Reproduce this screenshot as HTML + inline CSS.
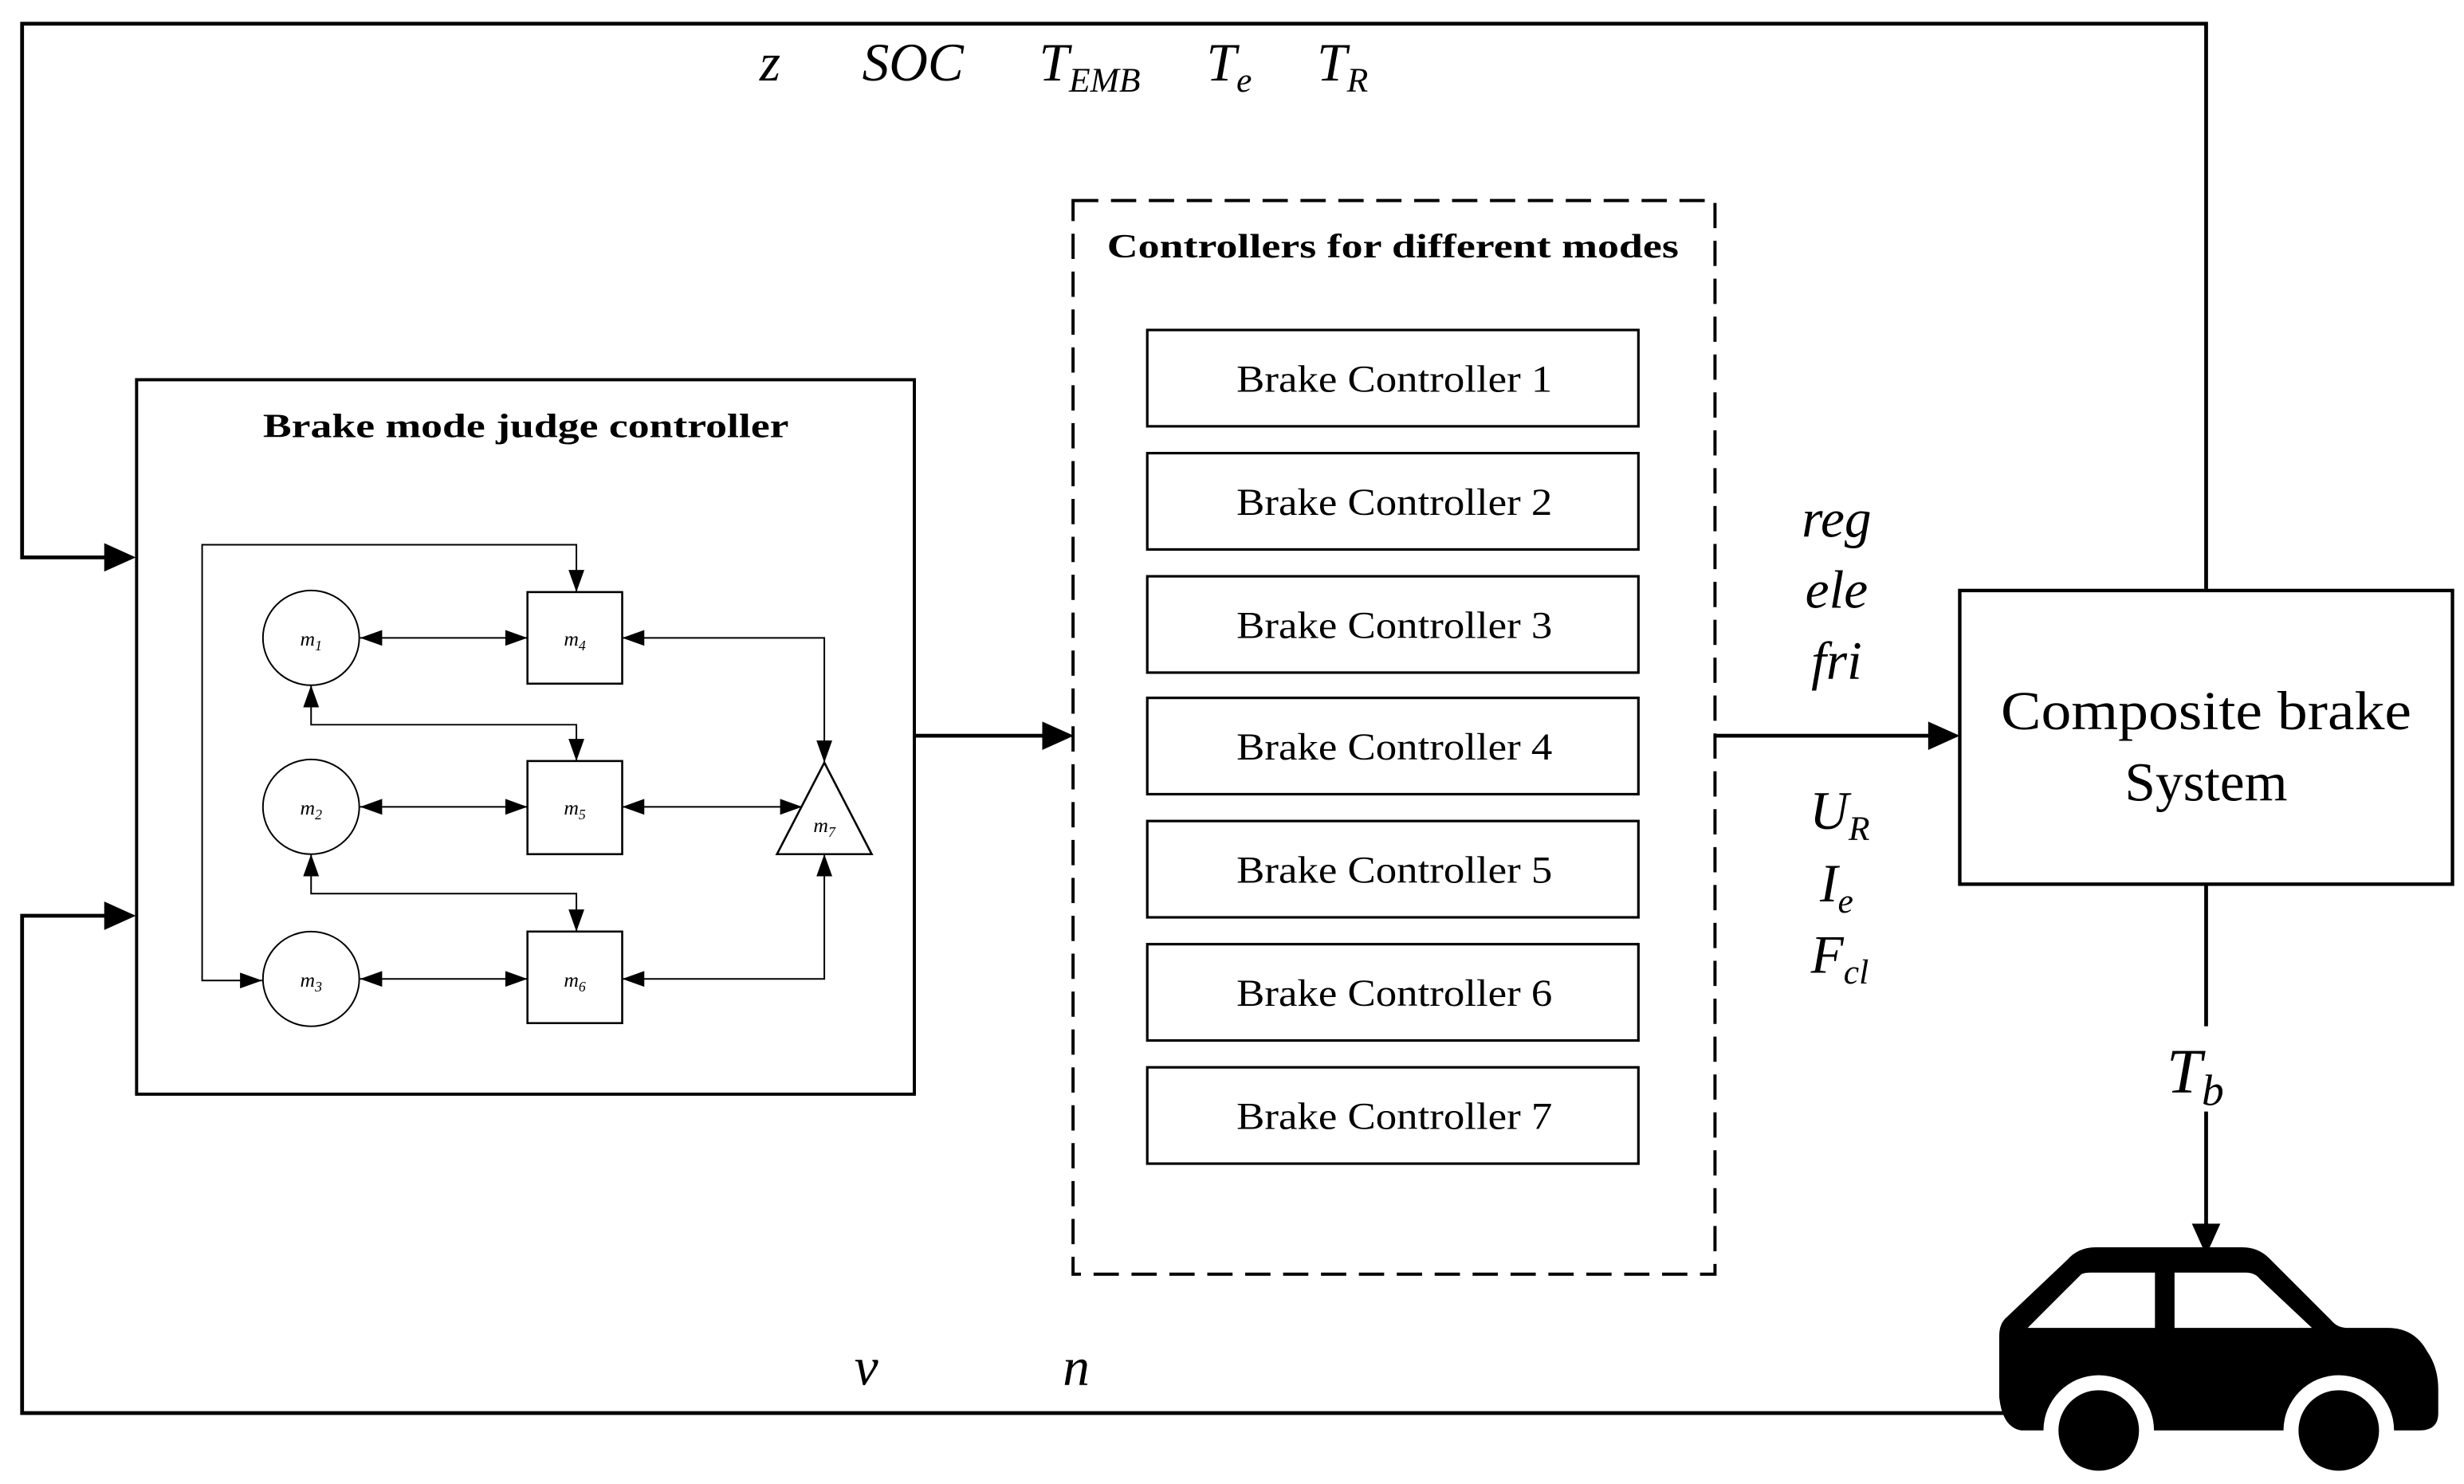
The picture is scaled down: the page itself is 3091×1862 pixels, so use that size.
<!DOCTYPE html>
<html><head><meta charset="utf-8"><style>
html,body{margin:0;padding:0;background:#fff;}
svg{display:block;}
text{font-family:"Liberation Serif",serif;fill:#000;}
</style></head><body>
<svg width="3091" height="1862" viewBox="0 0 1560.3 939.9" preserveAspectRatio="none" xmlns="http://www.w3.org/2000/svg">
<rect width="1560.3" height="939.9" fill="#fff"/>
<g fill="none" stroke="#000" stroke-width="2.4">
<polyline points="1397,373 1397,15 14,15 14,353 70,353"/>
<polyline points="1275,895 14,895 14,580 70,580"/>
<line x1="579" y1="466" x2="664" y2="466"/>
<line x1="1086" y1="466" x2="1224" y2="466"/>
<line x1="1397" y1="560" x2="1397" y2="778"/>
</g>
<g fill="#000">
<polygon points="86,353 66,344 66,362"/>
<polygon points="86,580 66,571 66,589"/>
<polygon points="680,466 660,457 660,475"/>
<polygon points="1241,466 1221,457 1221,475"/>
<polygon points="1397,795 1388,775 1406,775"/>
</g>
<rect x="86.5" y="240.5" width="492.5" height="452.5" fill="none" stroke="#000" stroke-width="2"/>
<text x="333" y="277" font-size="21.5" font-weight="bold" text-anchor="middle" textLength="333" lengthAdjust="spacingAndGlyphs">Brake mode judge controller</text>
<g fill="none" stroke="#000" stroke-width="1">
<ellipse cx="197" cy="404" rx="30.5" ry="30"/>
<ellipse cx="197" cy="511" rx="30.5" ry="30"/>
<ellipse cx="197" cy="620" rx="30.5" ry="30"/>
<rect x="334" y="375" width="60" height="58" stroke-width="1.3"/>
<rect x="334" y="482" width="60" height="59" stroke-width="1.3"/>
<rect x="334" y="590" width="60" height="58" stroke-width="1.3"/>
<polygon points="522,483 492,541 552,541" stroke-width="1.3"/>
<line x1="228" y1="404" x2="334" y2="404"/>
<line x1="228" y1="511" x2="334" y2="511"/>
<line x1="228" y1="620" x2="334" y2="620"/>
<polyline points="394,404 522,404 522,483"/>
<line x1="394" y1="511" x2="507" y2="511"/>
<polyline points="394,620 522,620 522,541"/>
<polyline points="197,434 197,459 365,459 365,482"/>
<polyline points="197,541 197,566 365,566 365,590"/>
<polyline points="365,375 365,345 128,345 128,621 166,621"/>
</g>
<g fill="#000">
<polygon points="228,404 242,399 242,409"/><polygon points="334,404 320,399 320,409"/>
<polygon points="228,511 242,506 242,516"/><polygon points="334,511 320,506 320,516"/>
<polygon points="228,620 242,615 242,625"/><polygon points="334,620 320,615 320,625"/>
<polygon points="394,404 408,399 408,409"/><polygon points="522,483 517,469 527,469"/>
<polygon points="394,511 408,506 408,516"/><polygon points="508,511 494,506 494,516"/>
<polygon points="394,620 408,615 408,625"/><polygon points="522,541 517,555 527,555"/>
<polygon points="197,434 192,448 202,448"/><polygon points="365,482 360,468 370,468"/>
<polygon points="197,541 192,555 202,555"/><polygon points="365,590 360,576 370,576"/>
<polygon points="365,375 360,361 370,361"/><polygon points="166,621 152,616 152,626"/>
</g>
<g font-style="italic" font-size="13" text-anchor="middle">
<text x="197" y="409">m<tspan font-size="9" dy="3">1</tspan></text>
<text x="197" y="516">m<tspan font-size="9" dy="3">2</tspan></text>
<text x="197" y="625">m<tspan font-size="9" dy="3">3</tspan></text>
<text x="364" y="409">m<tspan font-size="9" dy="3">4</tspan></text>
<text x="364" y="516">m<tspan font-size="9" dy="3">5</tspan></text>
<text x="364" y="625">m<tspan font-size="9" dy="3">6</tspan></text>
<text x="522" y="527">m<tspan font-size="9" dy="3">7</tspan></text>
</g>
<rect x="679.5" y="127" width="406.5" height="680" fill="none" stroke="#000" stroke-width="2" stroke-dasharray="16,8"/>
<rect x="695" y="140" width="375" height="30" fill="#fff"/>
<text x="882" y="163" font-size="21.5" font-weight="bold" text-anchor="middle" textLength="362" lengthAdjust="spacingAndGlyphs">Controllers for different modes</text>
<g fill="none" stroke="#000" stroke-width="1.6">
<rect x="726.5" y="209" width="311" height="61"/>
<rect x="726.5" y="287" width="311" height="61"/>
<rect x="726.5" y="365" width="311" height="61"/>
<rect x="726.5" y="442" width="311" height="61"/>
<rect x="726.5" y="520" width="311" height="61"/>
<rect x="726.5" y="598" width="311" height="61"/>
<rect x="726.5" y="676" width="311" height="61"/>
</g>
<g font-size="24" text-anchor="middle">
<text x="883" y="248" textLength="200" lengthAdjust="spacingAndGlyphs">Brake Controller 1</text>
<text x="883" y="326" textLength="200" lengthAdjust="spacingAndGlyphs">Brake Controller 2</text>
<text x="883" y="404" textLength="200" lengthAdjust="spacingAndGlyphs">Brake Controller 3</text>
<text x="883" y="481" textLength="200" lengthAdjust="spacingAndGlyphs">Brake Controller 4</text>
<text x="883" y="559" textLength="200" lengthAdjust="spacingAndGlyphs">Brake Controller 5</text>
<text x="883" y="637" textLength="200" lengthAdjust="spacingAndGlyphs">Brake Controller 6</text>
<text x="883" y="715" textLength="200" lengthAdjust="spacingAndGlyphs">Brake Controller 7</text>
</g>
<g font-style="italic" font-size="34" text-anchor="middle">
<text x="1163" y="340">reg</text>
<text x="1163" y="385">ele</text>
<text x="1163" y="430">fri</text>
<text x="1165" y="525">U<tspan font-size="22" dy="7">R</tspan></text>
<text x="1163" y="571">I<tspan font-size="22" dy="7">e</tspan></text>
<text x="1165" y="616">F<tspan font-size="22" dy="7">cl</tspan></text>
</g>
<rect x="1368" y="650" width="56" height="54" fill="#fff"/>
<g font-style="italic" font-size="34">
<text x="481" y="51">z</text>
<text x="546" y="51">SOC</text>
<text x="658" y="51">T<tspan font-size="22" dy="7">EMB</tspan></text>
<text x="764" y="51">T<tspan font-size="22" dy="7">e</tspan></text>
<text x="834" y="51">T<tspan font-size="22" dy="7">R</tspan></text>
<text x="541" y="877">v</text>
<text x="673" y="877">n</text>
<text x="1372" y="692" font-size="40">T<tspan font-size="28" dy="8">b</tspan></text>
</g>
<rect x="1241" y="374" width="312" height="186" fill="none" stroke="#000" stroke-width="2.2"/>
<text x="1397" y="462" font-size="35" text-anchor="middle" textLength="260" lengthAdjust="spacingAndGlyphs">Composite brake</text>
<text x="1397" y="507" font-size="35" text-anchor="middle">System</text>
<path d="M1327,790 L1420,790 Q1430,790 1437,797 L1476,836 Q1480,841 1486,841 L1512,841 Q1529,841 1537,856 Q1544,866 1544,880 L1544,895 Q1544,906 1532,906 L1280,906 Q1268,904 1266,885 L1266,846 Q1266,838 1271,834 L1309,798 Q1316,790 1327,790 Z" fill="#000"/>
<path d="M1284,841 L1318,807 Q1320,806 1324,806 L1364.6,806 L1364.6,841 Z" fill="#fff"/>
<path d="M1377,841 L1377,806 L1422,806 Q1428,806 1431,810 L1464,841 Z" fill="#fff"/>
<circle cx="1329" cy="906" r="35" fill="#fff"/>
<circle cx="1481" cy="906" r="35" fill="#fff"/>
<rect x="1260" y="906" width="300" height="34" fill="#fff"/>
<ellipse cx="1329" cy="906" rx="25.5" ry="25.5" fill="#000"/>
<ellipse cx="1481" cy="906" rx="25.5" ry="25.5" fill="#000"/>
</svg>
</body></html>
